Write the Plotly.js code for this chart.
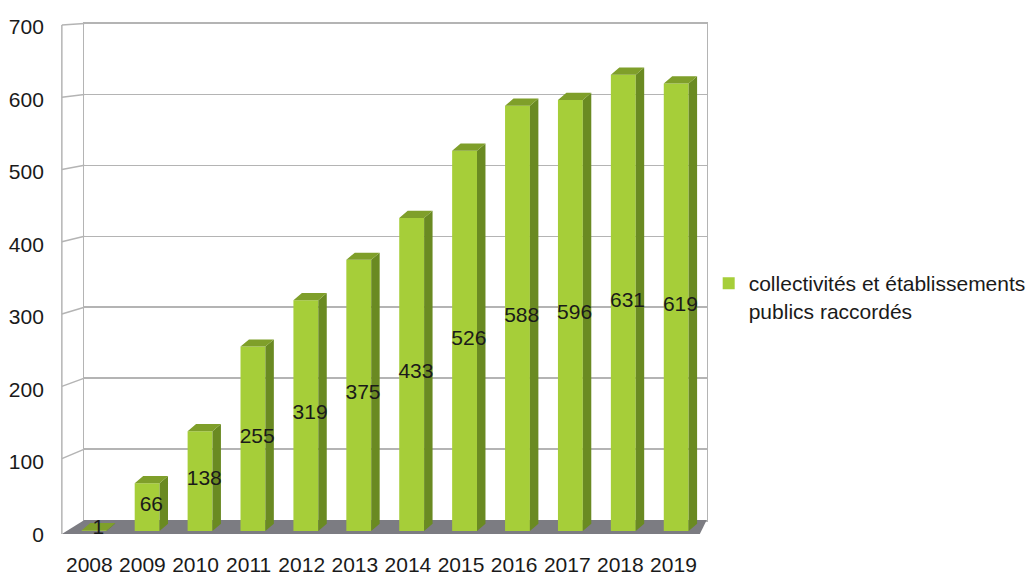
<!DOCTYPE html>
<html>
<head>
<meta charset="utf-8">
<script src="https://cdn.plot.ly/plotly-3.0.1.min.js"></script>
<style>html,body{margin:0;padding:0;background:#fff;}#chart{width:1031px;height:576px;}</style>
</head>
<body>
<div id="chart"></div>
<script>
// ---- data ----
const years = ['2008','2009','2010','2011','2012','2013','2014','2015','2016','2017','2018','2019'];
const values = [1, 66, 138, 255, 319, 375, 433, 526, 588, 596, 631, 619];
const yTicks = [0, 100, 200, 300, 400, 500, 600, 700];
const seriesName = 'collectivités et établissements<br>publics raccordés';

// ---- styling / geometry ----
const W = 1031, H = 576;
const FONT = 'Liberation Sans, Arial, sans-serif';
const GRID = '#b4b4b4';
const FRONT = '#a6ce39', SIDE = '#6a8a22', TOP = '#7f9f2a', FLOOR = '#7c7c82';
const barW = 0.47, dX = 0.16, dY = 10;       // 3D depth of bars (axis units)
const xLeftFront = -0.612, xLeftBack = -0.186, xRightBack = 11.577, xRightFront = 11.447;
const floorBackU = 15.2, wallScale = 0.981;   // back-wall value -> front units
const labelLift = 2;
const idx = years.map((_, i) => i);
const fx = px => px / W, fy = py => 1 - py / H;

// side faces and top caps from values
const sideX = [], sideY = [], topX = [], topY = [];
values.forEach((v, i) => {
  const r = i + barW / 2, l = i - barW / 2;
  sideX.push(r, r, r + dX, r + dX, r, null);
  sideY.push(0, v, v + dY, dY, 0, null);
  topX.push(l, r, r + dX, l + dX, l, null);
  topY.push(v, v, v + dY, v + dY, v, null);
});
// left connectors (front axis -> back wall)
const conX = [xLeftFront, xLeftFront, null], conY = [-4, 700, null];
yTicks.forEach(v => {
  if (v === 0) return;
  conX.push(xLeftFront, xLeftBack, null);
  conY.push(v, floorBackU + wallScale * v, null);
});

const traces = [
  {x: [null], y: [null], xaxis: 'x', yaxis: 'y', showlegend: false, hoverinfo: 'skip'},
  {x: idx, y: values, type: 'bar', xaxis: 'x2', yaxis: 'y2', width: barW,
   marker: {color: FRONT, line: {width: 0}}, name: seriesName, hoverinfo: 'y'},
  {x: sideX, y: sideY, xaxis: 'x2', yaxis: 'y2', mode: 'lines', fill: 'toself',
   fillcolor: SIDE, line: {width: 0, color: SIDE}, showlegend: false, hoverinfo: 'skip'},
  {x: topX, y: topY, xaxis: 'x2', yaxis: 'y2', mode: 'lines', fill: 'toself',
   fillcolor: TOP, line: {width: 0, color: TOP}, showlegend: false, hoverinfo: 'skip'},
  {x: conX, y: conY, xaxis: 'x2', yaxis: 'y2', mode: 'lines',
   line: {width: 1.5, color: GRID}, showlegend: false, hoverinfo: 'skip'},
  {x: idx.map(i => i + dX / 2), y: values.map(v => v / 2 + labelLift), xaxis: 'x2', yaxis: 'y2',
   mode: 'text', text: values.map(String), textfont: {family: FONT, size: 21, color: '#1a1a1a'},
   showlegend: false, hoverinfo: 'skip', cliponaxis: false},
  {x: [null], y: [null], xaxis: 'x3', yaxis: 'y2', showlegend: false, hoverinfo: 'skip'},
  {x: [null], y: [null], xaxis: 'x2', yaxis: 'y3', showlegend: false, hoverinfo: 'skip'}
];

const layout = {
  width: W, height: H,
  margin: {l: 0, r: 0, t: 0, b: 0},
  paper_bgcolor: '#ffffff', plot_bgcolor: 'rgba(0,0,0,0)',
  font: {family: FONT, size: 21, color: '#1a1a1a'},
  // back wall
  xaxis: {domain: [fx(86), fx(720)], range: [0, 1], anchor: 'y', showgrid: false, zeroline: false,
          showticklabels: false, showline: true, mirror: true, linecolor: GRID, linewidth: 1.5},
  yaxis: {domain: [fy(520), fy(23.5)], range: [0, 700], dtick: 100, anchor: 'x', showgrid: true,
          gridcolor: GRID, gridwidth: 1.5, zeroline: false, showticklabels: false,
          showline: true, mirror: true, linecolor: GRID, linewidth: 1.5},
  // front (bars)
  xaxis2: {domain: [fx(60), fx(722)], range: [(60 - 96) / 53.9, (722 - 96) / 53.9], anchor: 'y2',
           showgrid: false, zeroline: false, showticklabels: false, showline: false},
  yaxis2: {domain: [fy(534.6), fy(16.2)], range: [-5, 712], anchor: 'x2', showgrid: false,
           zeroline: false, showticklabels: false, showline: false},
  // year labels
  xaxis3: {overlaying: 'x2', anchor: 'y2', side: 'bottom', range: [(60 - 91) / 54.1, (722 - 91) / 54.1],
           tickvals: idx, ticktext: years, showgrid: false, zeroline: false, showline: false,
           ticks: '', ticklabelstandoff: 15, tickfont: {family: FONT, size: 21, color: '#1a1a1a'}},
  // value labels on the front axis
  yaxis3: {overlaying: 'y2', anchor: 'x2', side: 'left', range: [-0.55, 714.9],
           tickvals: yTicks, ticktext: yTicks.map(String), showgrid: false, zeroline: false,
           showline: false, ticks: '', ticklabelstandoff: 14,
           tickfont: {family: FONT, size: 21, color: '#1a1a1a'}},
  shapes: [{type: 'path', xref: 'x2', yref: 'y2', layer: 'below',
            path: `M ${xLeftFront},-4 L ${xLeftBack},${floorBackU} L ${xRightBack},${floorBackU} L ${xRightFront},-4 Z`,
            fillcolor: FLOOR, line: {width: 0}}],
  legend: {x: fx(722), y: fy(263), xanchor: 'left', yanchor: 'top', valign: 'top',
           bgcolor: 'rgba(0,0,0,0)', font: {family: FONT, size: 21, color: '#1a1a1a'}},
  showlegend: true
};

Plotly.newPlot('chart', traces, layout, {displayModeBar: false, staticPlot: true});
</script>
</body>
</html>
